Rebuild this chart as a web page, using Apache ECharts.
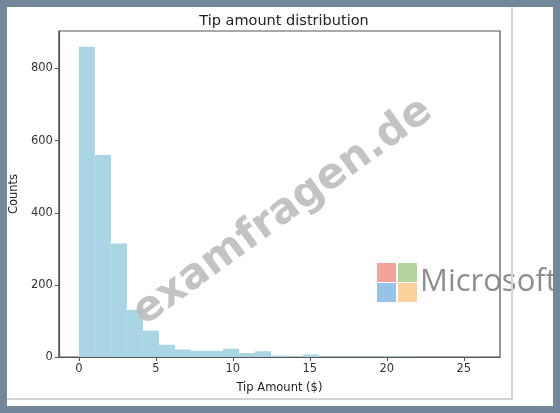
<!DOCTYPE html>
<html>
<head>
<meta charset="utf-8">
<script src="https://cdn.jsdelivr.net/npm/echarts@6/dist/echarts.min.js"></script>
<style>html,body{margin:0;padding:0;background:#fff;}#c{width:560px;height:413px;}</style>
</head>
<body>
<div id="c"></div>
<script>
// Histogram bin edges (Tip Amount $) and counts per bin
var binEdges = [0, 1.04, 2.08, 3.12, 4.16, 5.2, 6.24, 7.28, 8.32, 9.36, 10.4, 11.44, 12.48, 13.52, 14.56, 15.6, 16.64, 17.68, 18.72, 19.76, 20.8, 21.84, 22.88, 23.92, 24.96, 26.0];
var counts = [860, 560, 315, 131, 73, 34, 21, 17, 17, 23, 11, 16, 4, 2, 7, 1, 1, 1, 1, 2, 1, 0, 0, 0, 1];
var xTicks = [0, 5, 10, 15, 20, 25];
var yTicks = [0, 200, 400, 600, 800];
var titleText = 'Tip amount distribution';
var xName = 'Tip Amount ($)';
var yName = 'Counts';

var data = counts.map(function (c, i) { return [binEdges[i], binEdges[i + 1], c]; });

var chart = echarts.init(document.getElementById('c'), null, {renderer: 'canvas'});
var font = 'DejaVu Sans';
chart.setOption({
  backgroundColor: '#fff',
  animation: false,
  title: {
    text: titleText, left: 279, top: 9, textAlign: 'center',
    textStyle: {fontFamily: font, fontSize: 14.5, fontWeight: 'normal', color: '#222'}
  },
  grid: {left: 58, right: 60, top: 31, bottom: 56, show: true, borderColor: '#555', borderWidth: 1.2, backgroundColor: 'transparent'},
  xAxis: {
    type: 'value', min: -1.3, max: 27.35,
    name: xName, nameLocation: 'middle', nameGap: 25,
    nameTextStyle: {fontFamily: font, fontSize: 11.5, color: '#222'},
    axisLine: {show: true, onZero: false, lineStyle: {color: '#555', width: 1.2}},
    axisTick: {show: true, inside: false, length: 4, customValues: xTicks, lineStyle: {color: '#555'}},
    axisLabel: {show: true, margin: 6, customValues: xTicks, fontFamily: font, fontSize: 11.5, color: '#333'},
    splitLine: {show: false}
  },
  yAxis: {
    type: 'value', min: 0, max: 904,
    name: yName, nameLocation: 'middle', nameGap: 38, nameRotate: 90,
    nameTextStyle: {fontFamily: font, fontSize: 11.5, color: '#222'},
    axisLine: {show: true, onZero: false, lineStyle: {color: '#555', width: 1.2}},
    axisTick: {show: true, inside: false, length: 4, customValues: yTicks, lineStyle: {color: '#555'}},
    axisLabel: {show: true, margin: 6, customValues: yTicks, fontFamily: font, fontSize: 11.5, color: '#333'},
    splitLine: {show: false}
  },
  series: [{
    type: 'custom',
    data: data,
    encode: {x: [0, 1], y: 2},
    renderItem: function (params, api) {
      var p0 = api.coord([api.value(0), 0]);
      var p1 = api.coord([api.value(1), api.value(2)]);
      return {
        type: 'rect',
        shape: {x: p0[0], y: p1[1], width: p1[0] - p0[0], height: p0[1] - p1[1]},
        style: {fill: '#aad5e4'}
      };
    }
  }],
  graphic: [
    // watermark
    {type: 'text', x: 283, y: 212, rotation: 36 * Math.PI / 180, z: 50,
      style: {text: 'examfragen.de', fontFamily: font, fontWeight: 'bold', fontSize: 42, fill: 'rgba(185,185,185,0.85)', textAlign: 'center', textVerticalAlign: 'middle'}},
    {type: 'rect', shape: {x: 377, y: 263, width: 19, height: 19}, style: {fill: '#f0a398'}, z: 50},
    {type: 'rect', shape: {x: 398, y: 263, width: 19, height: 19}, style: {fill: '#b6d39c'}, z: 50},
    {type: 'rect', shape: {x: 377, y: 283, width: 19, height: 19}, style: {fill: '#98c3e8'}, z: 50},
    {type: 'rect', shape: {x: 398, y: 283, width: 19, height: 19}, style: {fill: '#fbd29b'}, z: 50},
    {type: 'text', x: 420, y: 282, z: 50,
      style: {text: 'Microsoft', fontFamily: 'Open Sans', fontSize: 31, fill: 'rgba(130,130,130,0.9)', textAlign: 'left', textVerticalAlign: 'middle'}},
    // screenshot frame lines
    {type: 'line', shape: {x1: 512, y1: 7, x2: 512, y2: 400}, style: {stroke: '#d4d4d4', lineWidth: 2}, z: 60},
    {type: 'line', shape: {x1: 7, y1: 399, x2: 512, y2: 399}, style: {stroke: '#d4d4d4', lineWidth: 2}, z: 60},
    // outer slate border
    {type: 'rect', shape: {x: 0, y: 0, width: 560, height: 7}, style: {fill: '#73879a'}, z: 70},
    {type: 'rect', shape: {x: 0, y: 406, width: 560, height: 7}, style: {fill: '#73879a'}, z: 70},
    {type: 'rect', shape: {x: 0, y: 0, width: 7, height: 413}, style: {fill: '#73879a'}, z: 70},
    {type: 'rect', shape: {x: 553, y: 0, width: 7, height: 413}, style: {fill: '#73879a'}, z: 70}
  ]
});
</script>
</body>
</html>
